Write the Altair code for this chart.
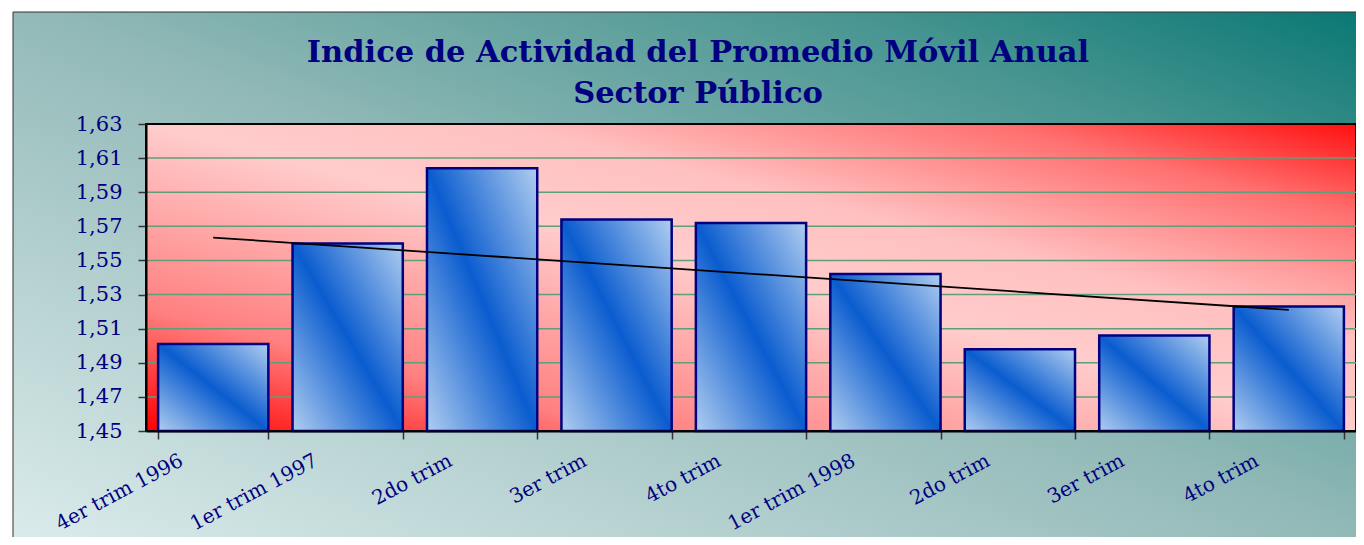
import json
import altair as alt
import pandas as pd

labels = ["4er trim 1996", "1er trim 1997", "2do trim", "3er trim", "4to trim",
          "1er trim 1998", "2do trim", "3er trim", "4to trim"]
values = [1.501, 1.560, 1.604, 1.574, 1.572, 1.542, 1.498, 1.506, 1.523]
y_ticks = [1.45, 1.47, 1.49, 1.51, 1.53, 1.55, 1.57, 1.59, 1.61, 1.63]
title_lines = ["Indice de Actividad del Promedio Móvil Anual", "Sector Público"]

df = pd.DataFrame({"idx": list(range(len(labels))), "label": labels, "value": values})
grid_df = pd.DataFrame({"value": y_ticks[1:-1]})
one = pd.DataFrame({"a": [0]})

W, H = 1210, 307
PL, PT, PR, PB = 138, 116, 0, 106

NAVY = "#000080"
FONT = "DejaVu Serif"
TFONT = "DejaVu Serif"

outer_grad = {"gradient": "linear", "x1": 0, "y1": 1, "x2": 1, "y2": 0,
              "stops": [{"offset": 0, "color": "#dcecec"},
                        {"offset": 0.5, "color": "#93bab8"},
                        {"offset": 0.8, "color": "#4a9692"},
                        {"offset": 1, "color": "#0a7873"}]}
plot_grad = {"gradient": "linear", "x1": 0, "y1": 1, "x2": 1, "y2": 0,
             "stops": [{"offset": 0, "color": "#ff0000"},
                       {"offset": 0.2, "color": "#ff8080"},
                       {"offset": 0.5, "color": "#ffcccc"},
                       {"offset": 0.65, "color": "#ffc0c0"},
                       {"offset": 0.85, "color": "#ff7070"},
                       {"offset": 1, "color": "#ff1010"}]}
bar_grad = {"gradient": "linear", "x1": 1, "y1": 0, "x2": 0, "y2": 1,
            "stops": [{"offset": 0, "color": "#b0cdf0"},
                      {"offset": 0.5, "color": "#0a5ccf"},
                      {"offset": 1, "color": "#b0cdf0"}]}

y_scale = alt.Scale(domain=[y_ticks[0], y_ticks[-1]], zero=False, nice=False)
y_axis = alt.Axis(values=y_ticks, labelExpr="replace(format(datum.value, '.2f'), '.', ',')",
                  labelFont=FONT, labelFontSize=21, labelColor=NAVY, labelPadding=16,
                  tickSize=8, tickColor="#333333", tickWidth=1.5,
                  domainColor="black", domainWidth=2, grid=False, zindex=1, title=None)
label_expr = json.dumps(labels) + "[datum.value]"

outer_bg = alt.Chart(one).mark_rect(fill=outer_grad, stroke="#333333", strokeWidth=1).encode(
    x=alt.value(-(PL - 5)), x2=alt.value(W + PR + 10),
    y=alt.value(-(PT - 4)), y2=alt.value(H + PB + 10),
)

plot_bg = alt.Chart(one).mark_rect(fill=plot_grad, stroke="black", strokeWidth=2).encode(
    x=alt.value(0), x2=alt.value(W), y=alt.value(0), y2=alt.value(H),
)

grid = alt.Chart(grid_df).mark_rule(color="#5f9e78", strokeWidth=1.5).encode(
    y=alt.Y("value:Q", scale=y_scale, axis=y_axis),
)

bars = alt.Chart(df).mark_bar(fill=bar_grad, stroke="#000080", strokeWidth=2.5).encode(
    x=alt.X("idx:O", title=None,
            scale=alt.Scale(paddingInner=0.18, paddingOuter=0.09),
            axis=alt.Axis(labelExpr=label_expr, labelAngle=332, labelAlign="right",
                          labelBaseline="middle", labelOffset=-32, labelPadding=20,
                          labelFont=FONT, labelFontSize=20, labelColor=NAVY,
                          tickBand="extent", tickSize=8, tickColor="#333333", tickWidth=1.5,
                          domainColor="black", domainWidth=2, grid=False, zindex=1)),
    y=alt.Y("value:Q", scale=y_scale, axis=y_axis),
    y2=alt.Y2(datum=y_ticks[0]),
)

trend = alt.Chart(df).transform_regression("idx", "value").mark_line(
    color="black", strokeWidth=1.8
).encode(
    x=alt.X("idx:Q", scale=alt.Scale(domain=[-0.5, len(labels) - 0.5], nice=False, zero=False), axis=None),
    y=alt.Y("value:Q", scale=y_scale, axis=y_axis),
)

title1 = alt.Chart(one).mark_text(font=TFONT, fontSize=30.5, fontWeight="bold", color=NAVY,
                                  align="center", baseline="alphabetic").encode(
    text=alt.value(title_lines[0]), x=alt.value(552), y=alt.value(-62),
)
title2 = alt.Chart(one).mark_text(font=TFONT, fontSize=30.5, fontWeight="bold", color=NAVY,
                                  align="center", baseline="alphabetic").encode(
    text=alt.value(title_lines[1]), x=alt.value(552), y=alt.value(-21),
)

chart = alt.layer(outer_bg, plot_bg, grid, bars, trend, title1, title2).resolve_scale(
    x="independent"
).properties(
    width=W, height=H,
    padding={"left": PL, "top": PT, "right": PR, "bottom": PB},
    autosize=alt.AutoSizeParams(type="none"),
).configure_view(stroke=None)

chart.save("out.html", embed_options={"renderer": "svg", "actions": False})
